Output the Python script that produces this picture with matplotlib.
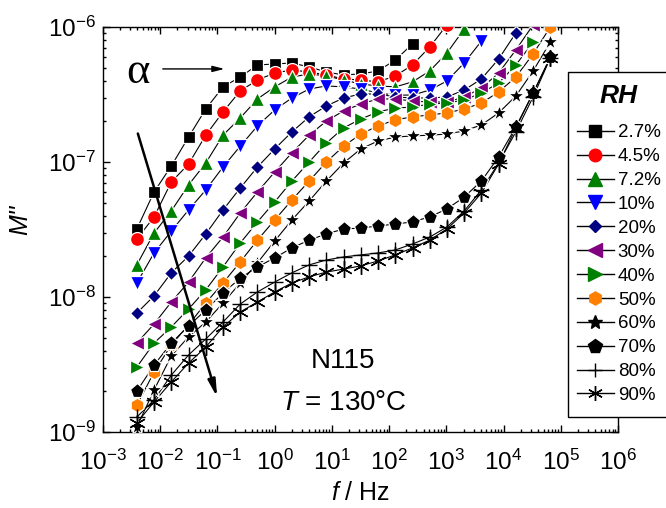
import matplotlib
matplotlib.use("Agg")
import matplotlib.pyplot as plt
from matplotlib.lines import Line2D
from matplotlib.patches import Rectangle
from matplotlib.ticker import LogLocator, NullFormatter

# =============================================================================
#  Electric modulus loss M'' vs frequency, N115 at 130 C, several RH levels
# =============================================================================

plt.rcParams["font.family"] = "Liberation Sans"
plt.rcParams["mathtext.fontset"] = "custom"
plt.rcParams["mathtext.rm"] = "Liberation Sans"
plt.rcParams["mathtext.it"] = "Liberation Sans:italic"
plt.rcParams["mathtext.default"] = "regular"

# ---- data ----
freq = [0.0039, 0.0078, 0.0156, 0.03125, 0.0625, 0.125, 0.25, 0.5, 1, 2, 4, 8,
        16, 32, 64, 128, 256, 512, 1024, 2048, 4096, 8192, 16384, 32768, 65536]

rh_labels = ["2.7%", "4.5%", "7.2%", "10%", "20%", "30%",
             "40%", "50%", "60%", "70%", "80%", "90%"]

m_27 = [3.19e-8, 6.0e-8, 9.34e-8, 1.53e-7, 2.47e-7, 3.6e-7, 4.26e-7, 5.23e-7,
        5.32e-7, 5.41e-7, 5.06e-7, 4.64e-7, 4.41e-7, 4.49e-7, 4.72e-7, 5.70e-7,
        7.48e-7]
m_45 = [2.69e-8, 3.92e-8, 7.11e-8, 9.66e-8, 1.58e-7, 2.35e-7, 3.36e-7, 4.05e-7,
        4.56e-7, 4.80e-7, 4.64e-7, 4.41e-7, 4.12e-7, 4.05e-7, 3.92e-7, 4.34e-7,
        5.23e-7, 7.11e-7, 1.035e-6]
m_72 = [1.73e-8, 2.98e-8, 4.34e-8, 6.76e-8, 9.83e-8, 1.58e-7, 2.12e-7, 2.93e-7,
        3.60e-7, 4.26e-7, 4.49e-7, 4.34e-7, 4.05e-7, 3.78e-7, 3.66e-7, 3.60e-7,
        3.92e-7, 4.72e-7, 6.42e-7, 9.66e-7]
m_10 = [1.27e-8, 2.12e-8, 3.08e-8, 4.41e-8, 6.21e-8, 9.18e-8, 1.31e-7, 1.85e-7,
        2.43e-7, 2.98e-7, 3.47e-7, 3.66e-7, 3.60e-7, 3.47e-7, 3.24e-7, 3.13e-7,
        3.13e-7, 3.41e-7, 3.98e-7, 5.41e-7, 7.87e-7]
m_20 = [7.60e-9, 1.02e-8, 1.51e-8, 2.01e-8, 2.93e-8, 4.41e-8, 6.42e-8, 9.18e-8,
        1.25e-7, 1.67e-7, 2.16e-7, 2.60e-7, 2.98e-7, 3.19e-7, 3.19e-7, 3.03e-7,
        2.98e-7, 2.98e-7, 3.03e-7, 3.41e-7, 4.12e-7, 5.79e-7, 9.03e-7]
m_30 = [4.56e-9, 6.31e-9, 9.18e-9, 1.29e-8, 1.95e-8, 2.78e-8, 4.19e-8, 6.0e-8,
        8.43e-8, 1.17e-7, 1.58e-7, 2.01e-7, 2.39e-7, 2.69e-7, 2.93e-7, 2.93e-7,
        2.83e-7, 2.78e-7, 2.78e-7, 3.03e-7, 3.53e-7, 4.56e-7, 6.76e-7, 1.035e-6]
m_40 = [3.03e-9, 4.56e-9, 6.0e-9, 8.15e-9, 1.13e-8, 1.67e-8, 2.51e-8, 3.60e-8,
        5.06e-8, 7.23e-8, 1.0e-7, 1.38e-7, 1.79e-7, 2.08e-7, 2.35e-7, 2.51e-7,
        2.55e-7, 2.69e-7, 2.73e-7, 2.88e-7, 3.24e-7, 3.85e-7, 5.23e-7, 7.74e-7]
m_50 = [1.58e-9, 2.78e-9, 4.41e-9, 6.21e-9, 9.03e-9, 1.27e-8, 1.82e-8, 2.64e-8,
        3.72e-8, 5.23e-8, 7.23e-8, 1.0e-7, 1.31e-7, 1.61e-7, 1.85e-7, 2.05e-7,
        2.16e-7, 2.23e-7, 2.31e-7, 2.47e-7, 2.73e-7, 3.30e-7, 4.26e-7, 6.31e-7,
        1.0e-6]
m_60 = [1.09e-9, 2.05e-9, 3.66e-9, 5.06e-9, 6.53e-9, 9.03e-9, 1.27e-8, 1.79e-8,
        2.60e-8, 3.72e-8, 5.14e-8, 7.23e-8, 9.83e-8, 1.25e-7, 1.43e-7, 1.53e-7,
        1.56e-7, 1.58e-7, 1.61e-7, 1.70e-7, 1.88e-7, 2.31e-7, 3.08e-7, 4.72e-7,
        7.74e-7]
m_70 = [2.01e-9, 3.13e-9, 4.56e-9, 6.10e-9, 8.01e-9, 1.07e-8, 1.38e-8, 1.67e-8,
        1.95e-8, 2.31e-8, 2.64e-8, 2.93e-8, 3.19e-8, 3.24e-8, 3.36e-8, 3.47e-8,
        3.60e-8, 3.92e-8, 4.49e-8, 5.50e-8, 7.23e-8, 1.09e-7, 1.82e-7, 3.24e-7,
        6.0e-7]
m_80 = [1.29e-9, 1.73e-9, 2.64e-9, 3.72e-9, 4.89e-9, 6.53e-9, 8.87e-9, 1.09e-8,
        1.29e-8, 1.51e-8, 1.73e-8, 1.88e-8, 1.98e-8, 2.05e-8, 2.12e-8, 2.23e-8,
        2.47e-8, 2.78e-8, 3.30e-8, 4.34e-8, 6.21e-8, 9.83e-8, 1.67e-7, 3.03e-7,
        5.89e-7]
m_90 = [1.17e-9, 1.67e-9, 2.35e-9, 3.24e-9, 4.26e-9, 6.0e-9, 7.74e-9, 9.18e-9,
        1.09e-8, 1.27e-8, 1.41e-8, 1.53e-8, 1.61e-8, 1.70e-8, 1.85e-8, 2.05e-8,
        2.31e-8, 2.64e-8, 3.19e-8, 4.19e-8, 5.89e-8, 9.66e-8, 1.79e-7, 3.24e-7,
        5.89e-7]

series = [m_27, m_45, m_72, m_10, m_20, m_30, m_40, m_50, m_60, m_70, m_80, m_90]

# ---- styles (Origin-like symbols) ----
colors = ["#000000", "#FF0000", "#008000", "#0000FF", "#000080", "#800080",
          "#008000", "#FF8000", "#000000", "#000000", "#000000", "#000000"]
markers = ["s", "o", "^", "v", "D", "<", ">", "h", "*", "p", "+", (6, 2, 0)]
msizes = [9, 10, 10.5, 10.5, 7.2, 10.5, 10.5, 10.5, 12, 11, 11, 12]

# =============================================================================
#  Plot
# =============================================================================
fig = plt.figure(figsize=(6.66, 5.08), dpi=100)
ax = fig.add_axes([0.1547, 0.1496, 0.7733, 0.7973])

handles = []
for vals, c, mk, ms, lab in zip(series, colors, markers, msizes, rh_labels):
    f = freq[:len(vals)]
    ax.plot(f, vals, color="black", linewidth=0.8, zorder=2)
    line_mark = mk in ("+", (6, 2, 0))
    ax.plot(
        f,
        vals,
        linestyle="none",
        marker=mk,
        markersize=ms,
        markerfacecolor=c,
        markeredgecolor="black" if line_mark else "white",
        markeredgewidth=1.0 if line_mark else 0.9,
        zorder=3,
    )
    handles.append(
        Line2D([], [], color="black", linewidth=1.0, marker=mk,
               markersize=ms * 0.9, markerfacecolor=c, markeredgecolor=c,
               markeredgewidth=1.0, label=lab)
    )

ax.set_xscale("log")
ax.set_yscale("log")
ax.set_xlim(1e-3, 1e6)
ax.set_ylim(1e-9, 1e-6)

ax.xaxis.set_major_locator(LogLocator(base=10, numticks=20))
ax.xaxis.set_minor_locator(LogLocator(base=10, subs=range(2, 10), numticks=20))
ax.xaxis.set_minor_formatter(NullFormatter())
ax.yaxis.set_minor_locator(LogLocator(base=10, subs=range(2, 10), numticks=20))
ax.yaxis.set_minor_formatter(NullFormatter())

ax.tick_params(which="both", direction="in", top=True, right=True, width=1.0)
ax.tick_params(which="major", length=5, labelsize=17.5, pad=5)
ax.tick_params(axis="x", which="major", pad=13)
ax.tick_params(which="minor", length=2.5)
for sp in ax.spines.values():
    sp.set_linewidth(1.0)

ax.set_xlabel("$\\mathit{f}$ / Hz", fontsize=18, va="center")
ax.xaxis.set_label_coords(0.5, -0.151)
ax.set_ylabel("M''", fontsize=18, style="italic")
ax.yaxis.set_label_coords(-0.138, 0.523)

# ---- annotations ----
ax.text(0.466, 0.175, "N115", transform=ax.transAxes, fontsize=20,
        ha="center", va="center")
ax.text(0.466, 0.072, "$\\mathit{T}$ = 130°C", transform=ax.transAxes,
        fontsize=20, ha="center", va="center")

ax.text(0.068, 0.888, "α", transform=ax.transAxes, fontsize=32,
        family="Liberation Serif", ha="center", va="center")
ax.annotate("", xy=(0.148, 4.89e-7), xytext=(0.0099, 4.89e-7),
            arrowprops=dict(arrowstyle="-|>,head_length=0.7,head_width=0.18",
                            color="black", lw=1.0))
ax.annotate("", xy=(0.102, 1.73e-9), xytext=(3.93e-3, 1.70e-7),
            arrowprops=dict(arrowstyle="-|>,head_length=1.0,head_width=0.22",
                            color="black", lw=1.8))

# ---- legend box (frame runs off the right edge of the figure) ----
box = Rectangle((568 / 666, 1 - 417 / 508), 130 / 666, 345 / 508,
                transform=fig.transFigure, facecolor="white",
                edgecolor="black", linewidth=1.0, zorder=4, clip_on=False)
fig.patches.append(box)

leg = fig.legend(
    handles=handles,
    loc="upper left",
    bbox_to_anchor=(0.853, 0.852),
    bbox_transform=fig.transFigure,
    title="RH",
    fontsize=13.5,
    frameon=False,
    handlelength=2.0,
    handletextpad=0.2,
    labelspacing=0.36,
    borderpad=0.45,
    borderaxespad=0,
)
leg.set_zorder(5)
leg.get_title().set_fontsize(19)
leg.get_title().set_fontweight("bold")
leg.get_title().set_fontstyle("italic")
# a bit more room between the title and the first entry
leg._legend_box.sep = 12

fig.savefig("out.png", dpi=100)
